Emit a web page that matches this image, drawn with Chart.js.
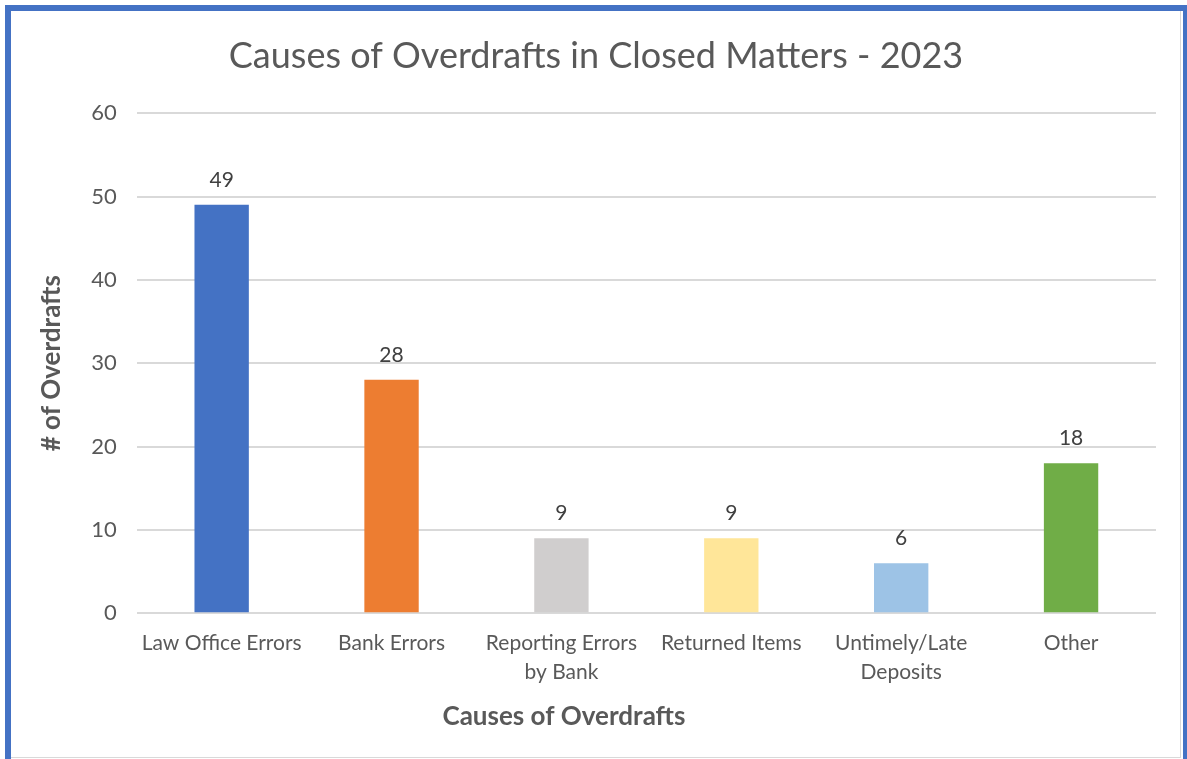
<!DOCTYPE html>
<html>
<head>
<meta charset="utf-8">
<script src="https://cdn.jsdelivr.net/npm/chart.js@4"></script>
<style>
  html, body { margin: 0; padding: 0; background: #fff; overflow: hidden; }
  #frame {
    position: absolute; left: 5px; top: 5px; width: 1172px; height: 760px;
    border: 6px solid #4472C4; border-bottom: none; background: #fff;
  }
  #wrap {
    position: absolute; left: 0; top: 0; width: 1169px; height: 746px;
    border-right: 1px solid #D9D9D9; border-bottom: 1px solid #D9D9D9;
  }
</style>
</head>
<body>
<div id="frame"><div id="wrap"><canvas id="chart"></canvas></div></div>
<script>
// Data
const categories = [
    'Law Office Errors',
    'Bank Errors',
    ['Reporting Errors', 'by Bank'],
    'Returned Items',
    ['Untimely/Late', 'Deposits'],
    'Other'
];
const overdrafts = [49, 28, 9, 9, 6, 18];
const barColors = ['#4472C4', '#ED7D31', '#D0CECE', '#FFE699', '#9DC3E6', '#70AD47'];
const xTitle = 'Causes of Overdrafts';

const FONT = 'Lato, "Open Sans", sans-serif';
const TEXT = '#595959';

// Value labels above the bars, plus the x axis title (sits left of centre, like Excel)
const valueLabels = {
    id: 'valueLabels',
    afterDatasetsDraw(chart) {
        const ctx = chart.ctx;
        const meta = chart.getDatasetMeta(0);
        ctx.save();
        ctx.font = '21px ' + FONT;
        ctx.fillStyle = '#404040';
        ctx.textAlign = 'center';
        ctx.textBaseline = 'middle';
        meta.data.forEach((bar, i) => {
            ctx.fillText(String(overdrafts[i]), bar.x, bar.y - 25);
        });
        ctx.font = 'bold 26px ' + FONT;
        ctx.fillStyle = TEXT;
        ctx.fillText(xTitle, chart.width * 0.473, chart.height - 40);
        ctx.restore();
    }
};

new Chart(document.getElementById('chart'), {
    type: 'bar',
    data: {
        labels: categories,
        datasets: [{
            data: overdrafts,
            backgroundColor: barColors,
            borderWidth: 0,
            barPercentage: 0.64,
            categoryPercentage: 0.5
        }]
    },
    options: {
        responsive: true,
        maintainAspectRatio: false,
        animation: false,
        layout: { padding: { left: 25, right: 24, top: 0, bottom: 63 } },
        plugins: {
            legend: { display: false },
            tooltip: { enabled: false },
            title: {
                display: true,
                text: 'Causes of Overdrafts in Closed Matters - 2023',
                color: TEXT,
                font: { family: FONT, size: 36, weight: 'normal' },
                padding: { top: 24, bottom: 35 }
            }
        },
        scales: {
            x: {
                grid: { display: false },
                border: { display: false },
                ticks: {
                    color: TEXT,
                    font: { family: FONT, size: 21, lineHeight: 1.4 },
                    padding: 7,
                    maxRotation: 0,
                    autoSkip: false
                }
            },
            y: {
                min: 0,
                max: 60,
                grid: { color: '#D9D9D9', lineWidth: 2, drawTicks: false },
                border: { display: false },
                ticks: {
                    stepSize: 10,
                    color: TEXT,
                    font: { family: FONT, size: 22 },
                    padding: 20
                },
                title: {
                    display: true,
                    text: '# of Overdrafts',
                    color: TEXT,
                    font: { family: FONT, size: 26, weight: 'bold' },
                    padding: { top: 0, bottom: 4 }
                }
            }
        }
    },
    plugins: [valueLabels]
});
</script>
</body>
</html>
